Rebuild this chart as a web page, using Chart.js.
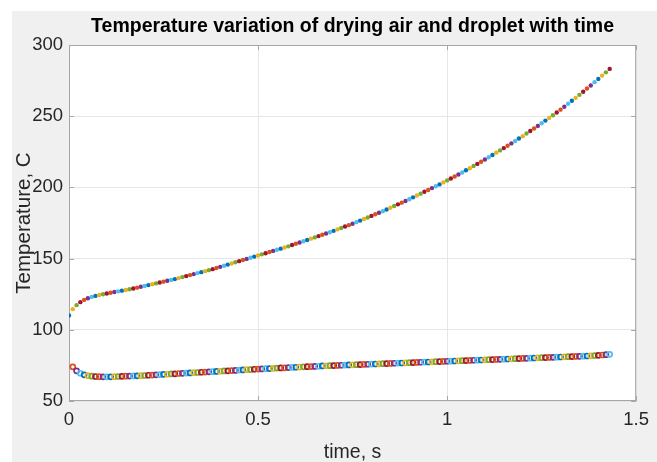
<!DOCTYPE html>
<html>
<head>
<meta charset="utf-8">
<script src="https://cdn.jsdelivr.net/npm/chart.js@4.4.1/dist/chart.umd.min.js"></script>
<style>
  html, body { margin: 0; padding: 0; background: #fff; }
  #wrap { width: 657px; height: 462px; }
</style>
</head>
<body>
<div id="wrap"><canvas id="mycanvas" width="657" height="462"></canvas></div>
<script>
// time, s
var time = [0,0.01,0.02,0.03,0.04,0.05,0.06,0.07,0.08,0.09,
  0.10,0.11,0.12,0.13,0.14,0.15,0.16,0.17,0.18,0.19,
  0.20,0.21,0.22,0.23,0.24,0.25,0.26,0.27,0.28,0.29,
  0.30,0.31,0.32,0.33,0.34,0.35,0.36,0.37,0.38,0.39,
  0.40,0.41,0.42,0.43,0.44,0.45,0.46,0.47,0.48,0.49,
  0.50,0.51,0.52,0.53,0.54,0.55,0.56,0.57,0.58,0.59,
  0.60,0.61,0.62,0.63,0.64,0.65,0.66,0.67,0.68,0.69,
  0.70,0.71,0.72,0.73,0.74,0.75,0.76,0.77,0.78,0.79,
  0.80,0.81,0.82,0.83,0.84,0.85,0.86,0.87,0.88,0.89,
  0.90,0.91,0.92,0.93,0.94,0.95,0.96,0.97,0.98,0.99,
  1.00,1.01,1.02,1.03,1.04,1.05,1.06,1.07,1.08,1.09,
  1.10,1.11,1.12,1.13,1.14,1.15,1.16,1.17,1.18,1.19,
  1.20,1.21,1.22,1.23,1.24,1.25,1.26,1.27,1.28,1.29,
  1.30,1.31,1.32,1.33,1.34,1.35,1.36,1.37,1.38,1.39,
  1.40,1.41,1.42,1.43];

// drying air temperature, C (one value per time step, from t = 0)
var airTemp = [110.0,114.5,117.3,119.4,121.0,122.2,123.1,123.8,124.4,125.0,
  125.5,126.0,126.5,127.0,127.5,128.0,128.5,129.0,129.6,130.2,
  130.8,131.4,132.0,132.6,133.2,133.8,134.4,135.0,135.6,136.3,
  137.0,137.7,138.4,139.1,139.8,140.5,141.2,141.9,142.6,143.4,
  144.2,145.0,145.8,146.6,147.4,148.2,149.0,149.8,150.6,151.4,
  152.2,153.0,153.8,154.6,155.4,156.2,157.0,157.8,158.6,159.5,
  160.4,161.3,162.2,163.1,164.0,164.9,165.8,166.7,167.6,168.5,
  169.5,170.5,171.5,172.5,173.5,174.5,175.6,176.7,177.8,178.9,
  180.0,181.1,182.2,183.3,184.5,185.7,186.9,188.1,189.3,190.5,
  191.7,193.0,194.3,195.6,196.9,198.2,199.5,200.8,202.1,203.5,
  204.9,206.3,207.7,209.1,210.5,212.0,213.5,215.0,216.5,218.0,
  219.6,221.2,222.8,224.4,226.0,227.6,229.2,230.9,232.6,234.3,
  236.0,237.8,239.6,241.4,243.2,245.0,246.9,248.8,250.7,252.6,
  254.6,256.6,258.7,260.8,262.9,265.0,267.2,269.4,271.6,273.9,
  276.2,278.5,280.8,283.2];

// droplet temperature, C (one value per time step, from t = 0.01)
var dropTemp = [74.0,71.2,69.5,68.4,67.8,67.4,67.2,67.1,67.0,
  67.0,67.0,67.1,67.2,67.3,67.4,67.5,67.6,67.7,67.8,
  67.9,68.1,68.2,68.4,68.5,68.7,68.8,69.0,69.1,69.3,
  69.4,69.6,69.7,69.9,70.0,70.2,70.3,70.5,70.6,70.8,
  70.9,71.1,71.2,71.4,71.5,71.7,71.8,72.0,72.1,72.3,
  72.4,72.5,72.7,72.8,72.9,73.1,73.2,73.3,73.5,73.6,
  73.7,73.8,74.0,74.1,74.2,74.3,74.4,74.6,74.7,74.8,
  74.9,75.0,75.1,75.2,75.3,75.4,75.5,75.6,75.7,75.8,
  75.9,76.0,76.1,76.2,76.3,76.4,76.5,76.6,76.7,76.8,
  76.9,77.0,77.1,77.2,77.3,77.4,77.5,77.6,77.7,77.8,
  77.9,78.0,78.1,78.2,78.3,78.4,78.5,78.6,78.7,78.8,
  78.9,79.0,79.1,79.2,79.3,79.4,79.5,79.6,79.7,79.8,
  79.9,80.0,80.1,80.2,80.3,80.4,80.5,80.6,80.7,80.8,
  80.9,81.0,81.1,81.2,81.3,81.4,81.5,81.6,81.7,81.9,
  82.1,82.3,82.5,82.8];

var xTicks = [0, 0.5, 1, 1.5];
var yTicks = [50, 100, 150, 200, 250, 300];

// matlab default colour order, cycled point by point
var colorOrder = ['#0072BD', '#D95319', '#EDB120', '#7E2F8E', '#77AC30', '#4DBEEE', '#A2142F'];

var FONT = "'Liberation Sans', Arial, Helvetica, sans-serif";

function toPoints(xs, ys) {
  var pts = [];
  for (var i in ys) pts.push({x: xs[i], y: ys[i]});
  return pts;
}

// figure background + axes box with inward ticks
var figurePlugin = {
  id: 'figure',
  beforeDraw: function(chart) {
    var c = chart.ctx, a = chart.chartArea;
    c.save();
    c.fillStyle = '#ffffff';
    c.fillRect(0, 0, chart.width, chart.height);
    c.fillStyle = '#f0f0f0';
    c.fillRect(12, 11, chart.width - 12, chart.height - 11);
    c.fillStyle = '#ffffff';
    c.fillRect(a.left, a.top, a.right - a.left, a.bottom - a.top);
    c.restore();
  },
  beforeDatasetsDraw: function(chart) {
    var c = chart.ctx, a = chart.chartArea;
    var xs = chart.scales.x, ys = chart.scales.y;
    c.save();
    c.strokeStyle = '#a6a6a6';
    c.lineWidth = 1;
    c.strokeRect(a.left + 0.5, a.top + 0.5, a.right - a.left - 1, a.bottom - a.top - 1);
    c.beginPath();
    xTicks.forEach(function(v) {
      var px = Math.round(xs.getPixelForValue(v)) + 0.5;
      c.moveTo(px, a.bottom); c.lineTo(px, a.bottom - 5);
      c.moveTo(px, a.top); c.lineTo(px, a.top + 5);
    });
    yTicks.forEach(function(v) {
      var py = Math.round(ys.getPixelForValue(v)) + 0.5;
      c.moveTo(a.left, py); c.lineTo(a.left + 5, py);
      c.moveTo(a.right, py); c.lineTo(a.right - 5, py);
    });
    c.stroke();
    c.restore();
  }
};

var ctx = document.getElementById('mycanvas');

var chart = new Chart(ctx, {
  type: 'scatter',
  data: {
    datasets: [
      {
        label: 'drying air',
        data: toPoints(time, airTemp),
        showLine: false,
        pointStyle: 'circle',
        pointRadius: 2.2,
        pointBorderWidth: 0,
        pointBackgroundColor: function(c) { return colorOrder[(2 * c.dataIndex) % 7]; },
        pointBorderColor: function(c) { return colorOrder[(2 * c.dataIndex) % 7]; }
      },
      {
        label: 'droplet',
        data: toPoints(time.slice(1), dropTemp),
        showLine: false,
        pointStyle: 'circle',
        pointRadius: 2.5,
        pointBorderWidth: 1.7,
        pointBackgroundColor: 'rgba(255,255,255,0)',
        pointBorderColor: function(c) { return colorOrder[(2 * c.dataIndex + 1) % 7]; }
      }
    ]
  },
  options: {
    responsive: false,
    animation: false,
    events: [],
    layout: { padding: { left: 0, right: 17, top: 0, bottom: 0 } },
    plugins: {
      legend: { display: false },
      tooltip: { enabled: false },
      title: {
        display: true,
        fullSize: false,
        text: 'Temperature variation of drying air and droplet with time',
        color: '#000000',
        font: { family: FONT, size: 19.5, weight: 'bold', lineHeight: 1.2 },
        padding: { top: 14.5, bottom: 7.1 }
      }
    },
    scales: {
      x: {
        type: 'linear',
        min: 0,
        max: 1.5,
        afterBuildTicks: function(s) { s.ticks = xTicks.map(function(v) { return {value: v}; }); },
        afterFit: function(s) { s.height = 61; },
        grid: { color: '#e6e6e6', drawTicks: false },
        border: { display: false },
        ticks: {
          color: '#262626',
          padding: 8,
          maxRotation: 0,
          font: { family: FONT, size: 18.5 },
          callback: function(v) { return String(v); }
        },
        title: {
          display: true,
          text: 'time, s',
          color: '#262626',
          font: { family: FONT, size: 19.5, lineHeight: 1.2 },
          padding: { top: 0, bottom: -2 }
        }
      },
      y: {
        type: 'linear',
        min: 50,
        max: 300,
        afterBuildTicks: function(s) { s.ticks = yTicks.map(function(v) { return {value: v}; }); },
        afterFit: function(s) { s.width = 69; },
        grid: { color: '#e6e6e6', drawTicks: false },
        border: { display: false },
        ticks: {
          color: '#262626',
          padding: 6,
          font: { family: FONT, size: 18.5 },
          callback: function(v) { return String(v); }
        },
        title: {
          display: true,
          text: 'Temperature, C',
          color: '#262626',
          font: { family: FONT, size: 20.5, lineHeight: 1.2 },
          padding: { top: 12, bottom: 0 }
        }
      }
    }
  },
  plugins: [figurePlugin]
});
</script>
</body>
</html>
